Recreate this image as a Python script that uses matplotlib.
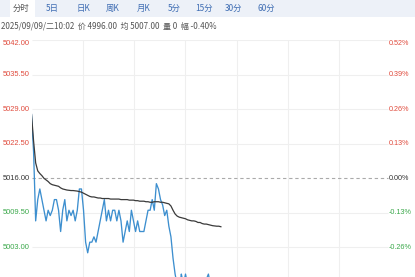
import matplotlib
matplotlib.use("Agg")
import matplotlib.pyplot as plt
import numpy as np

# minutes since session open, 2-minute sampling
minutes = list(range(0, 184, 2))

price = [5028, 5021, 5008, 5012, 5014, 5012, 5010, 5008, 5010, 5009,
         5010, 5012, 5012, 5010, 5006, 5010, 5012, 5008, 5010, 5009,
         5010, 5008, 5010, 5014, 5014, 5010, 5004, 5002, 5004, 5004,
         5005, 5004, 5006, 5008, 5010, 5012, 5008, 5010, 5008, 5010,
         5010, 5008, 5010, 5008, 5004, 5006, 5008, 5006, 5010, 5008,
         5006, 5008, 5006, 5006, 5006, 5008, 5010, 5010, 5012, 5010,
         5015, 5014, 5012, 5011, 5009, 5010, 5007, 5005, 5001, 4998,
         4996, 4995, 4998, 4996, 4998, 4996, 4995, 4996, 4997, 4995,
         4996, 4997, 4995, 4996, 4997, 4998, 4996, 4995, 4996, 4997,
         4996, 4996]

avg = [5028.0, 5023.0, 5018.9, 5017.4, 5016.9, 5016.5, 5016.0, 5015.7, 5015.4, 5015.0,
       5014.8, 5014.7, 5014.6, 5014.5, 5014.2, 5014.0, 5013.9, 5013.8, 5013.75, 5013.7,
       5013.7, 5013.65, 5013.6, 5013.5, 5013.4, 5013.2, 5013.0, 5012.8, 5012.6, 5012.5,
       5012.5, 5012.4, 5012.3, 5012.3, 5012.2, 5012.2, 5012.2, 5012.2, 5012.1, 5012.1,
       5012.1, 5012.1, 5012.1, 5012.0, 5012.0, 5012.0, 5012.0, 5011.9, 5011.9, 5011.9,
       5011.8, 5011.8, 5011.7, 5011.7, 5011.7, 5011.6, 5011.6, 5011.5, 5011.5, 5011.6,
       5011.6, 5011.6, 5011.5, 5011.5, 5011.4, 5011.3, 5011.2, 5010.8, 5010.0, 5009.3,
       5008.9, 5008.7, 5008.6, 5008.5, 5008.4, 5008.2, 5008.1, 5008.0, 5008.0, 5007.9,
       5007.7, 5007.7, 5007.5, 5007.4, 5007.4, 5007.3, 5007.2, 5007.1, 5007.05, 5007.0,
       5007.0, 5006.9]

pre_close = 5016.0
price_levels = [4990.0, 4996.5, 5003.0, 5009.5, 5016.0, 5022.5, 5029.0, 5035.5, 5042.0]
labelled_levels = [5003.0, 5009.5, 5016.0, 5022.5, 5029.0, 5035.5, 5042.0]
total_minutes = 345
tabs = ["分时", "5日", "日K", "周K", "月K", "5分", "15分", "30分", "60分"]
info = "2025/09/09/二10:02  价 4996.00  均 5007.00  量 0  幅 -0.40%"

RED = "#e04a3c"
GREEN = "#3aa84a"
W, H = 415, 277
CJK = ["Noto Sans CJK SC", "DejaVu Sans"]

fig = plt.figure(figsize=(W / 100, H / 100), dpi=100)
fig.patch.set_facecolor("white")

# tab bar
bar = fig.add_axes([0, 1 - 17 / H, 1, 17 / H])
bar.set_xlim(0, W)
bar.set_ylim(0, 17)
bar.axis("off")
bar.add_patch(plt.Rectangle((0, 0), W, 17, color="#edf1f8", lw=0))
bar.add_patch(plt.Rectangle((10, 0), 25, 17, color="white", lw=0))
tab_x = [21, 52, 83, 113, 144, 174, 204, 234, 266]
for i, (t, tx) in enumerate(zip(tabs, tab_x)):
    bar.text(tx, 8.5, t, ha="center", va="center", fontsize=6.0,
             color="#555555" if i == 0 else "#3f6db3", family=CJK)

fig.text(1 / W, 1 - 25.5 / H, info, ha="left", va="center", fontsize=5.8,
         color="#555555", family=CJK)

# main chart: axis extends below the visible picture
left_px, right_px, top_px = 31.5, 390.5, 40.0
px_per_unit = 5.32
bottom_px = top_px + (price_levels[-1] - price_levels[0]) * px_per_unit
ax = fig.add_axes([left_px / W, 1 - bottom_px / H,
                   (right_px - left_px) / W, (bottom_px - top_px) / H])
ax.set_xlim(0, total_minutes)
ax.set_ylim(price_levels[0], price_levels[-1])
for s in ax.spines.values():
    s.set_visible(False)
ax.set_xticks([])
ax.set_yticks([])

label_end = (388 - left_px) / (right_px - left_px)
for lv in price_levels:
    if lv == pre_close:
        ax.hlines(lv, 0, total_minutes * label_end, color="#aaaaaa", lw=0.8,
                  linestyles=(0, (3, 2.5)), zorder=1)
    else:
        ax.hlines(lv, 0, total_minutes * label_end, color="#efefef", lw=0.8, zorder=0)
for k in range(1, 7):
    ax.axvline(total_minutes * k / 7, color="#efefef", lw=0.8, zorder=0)

ax.plot(minutes, price, color="#3d8fcf", lw=0.95, zorder=3)
ax.plot(minutes, avg, color="#3a3a3a", lw=0.9, zorder=4)

ytr = ax.get_yaxis_transform()
for lv in labelled_levels:
    pct = (lv - pre_close) / pre_close * 100
    if lv > pre_close:
        c = RED
    elif lv < pre_close:
        c = GREEN
    else:
        c = "#333333"
    va = "top" if lv == price_levels[-1] else "center"
    ax.text(-0.004, lv, "%.2f" % lv, transform=ytr, ha="right", va=va,
            fontsize=5.4, color=c, family="Liberation Sans")
    ax.text(label_end + 0.002, lv, "%.2f%%" % pct, transform=ytr, ha="left", va=va,
            fontsize=5.2, color=c, family="Liberation Sans", clip_on=False)

fig.savefig("out.png", dpi=100)
